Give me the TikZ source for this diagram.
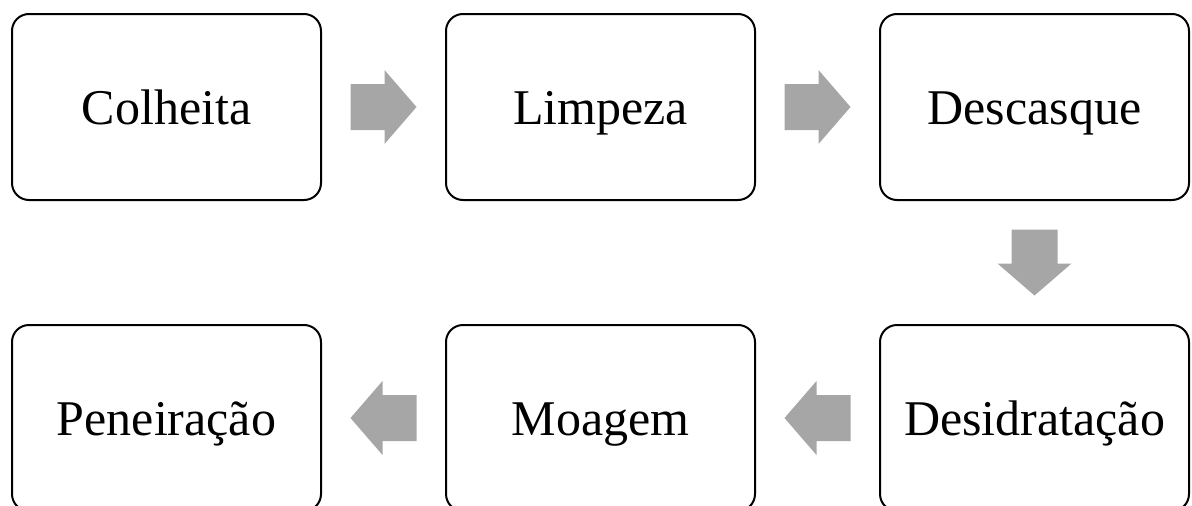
\documentclass[tikz,border=0pt]{standalone}
\usepackage{fontspec}
\setmainfont{Liberation Serif}
\usepackage{tikz}
\usetikzlibrary{positioning, calc}

\definecolor{arrowgray}{HTML}{A6A6A6}

\tikzset{
  stepbox/.style={draw=black, line width=2pt, rounded corners=17pt,
    minimum width=309pt, minimum height=186pt, inner sep=0pt,
    text height=40pt, text depth=6pt,
    font=\fontsize{50}{60}\selectfont},
  blockarrow/.style={fill=arrowgray, draw=none}
}

\begin{document}
\begin{tikzpicture}[x=1pt, y=1pt, node distance=123pt]
  % Page frame (bottom row is cut by the lower edge)
  \clip (0,0) rectangle (1192,-506);

  % Process steps
  \node[stepbox] (colheita) at (166.5,-107) {Colheita};
  \node[stepbox, right=of colheita] (limpeza) {Limpeza};
  \node[stepbox, right=of limpeza] (descasque) {Descasque};
  \node[stepbox, below=of descasque] (desidratacao) {Desidratação};
  \node[stepbox, left=of desidratacao] (moagem) {Moagem};
  \node[stepbox, left=of moagem] (peneiracao) {Peneiração};

  % Block arrows between the steps
  \foreach \from/\to/\ang in {
    colheita/limpeza/0,
    limpeza/descasque/0,
    descasque/desidratacao/-90,
    desidratacao/moagem/180,
    moagem/peneiracao/180
  } {
    \fill[blockarrow, shift={($(\from)!0.5!(\to)$)}, rotate=\ang]
      (-33,-23) -- (1,-23) -- (1,-37) -- (33,0) -- (1,37) -- (1,23) -- (-33,23) -- cycle;
  }
\end{tikzpicture}
\end{document}
